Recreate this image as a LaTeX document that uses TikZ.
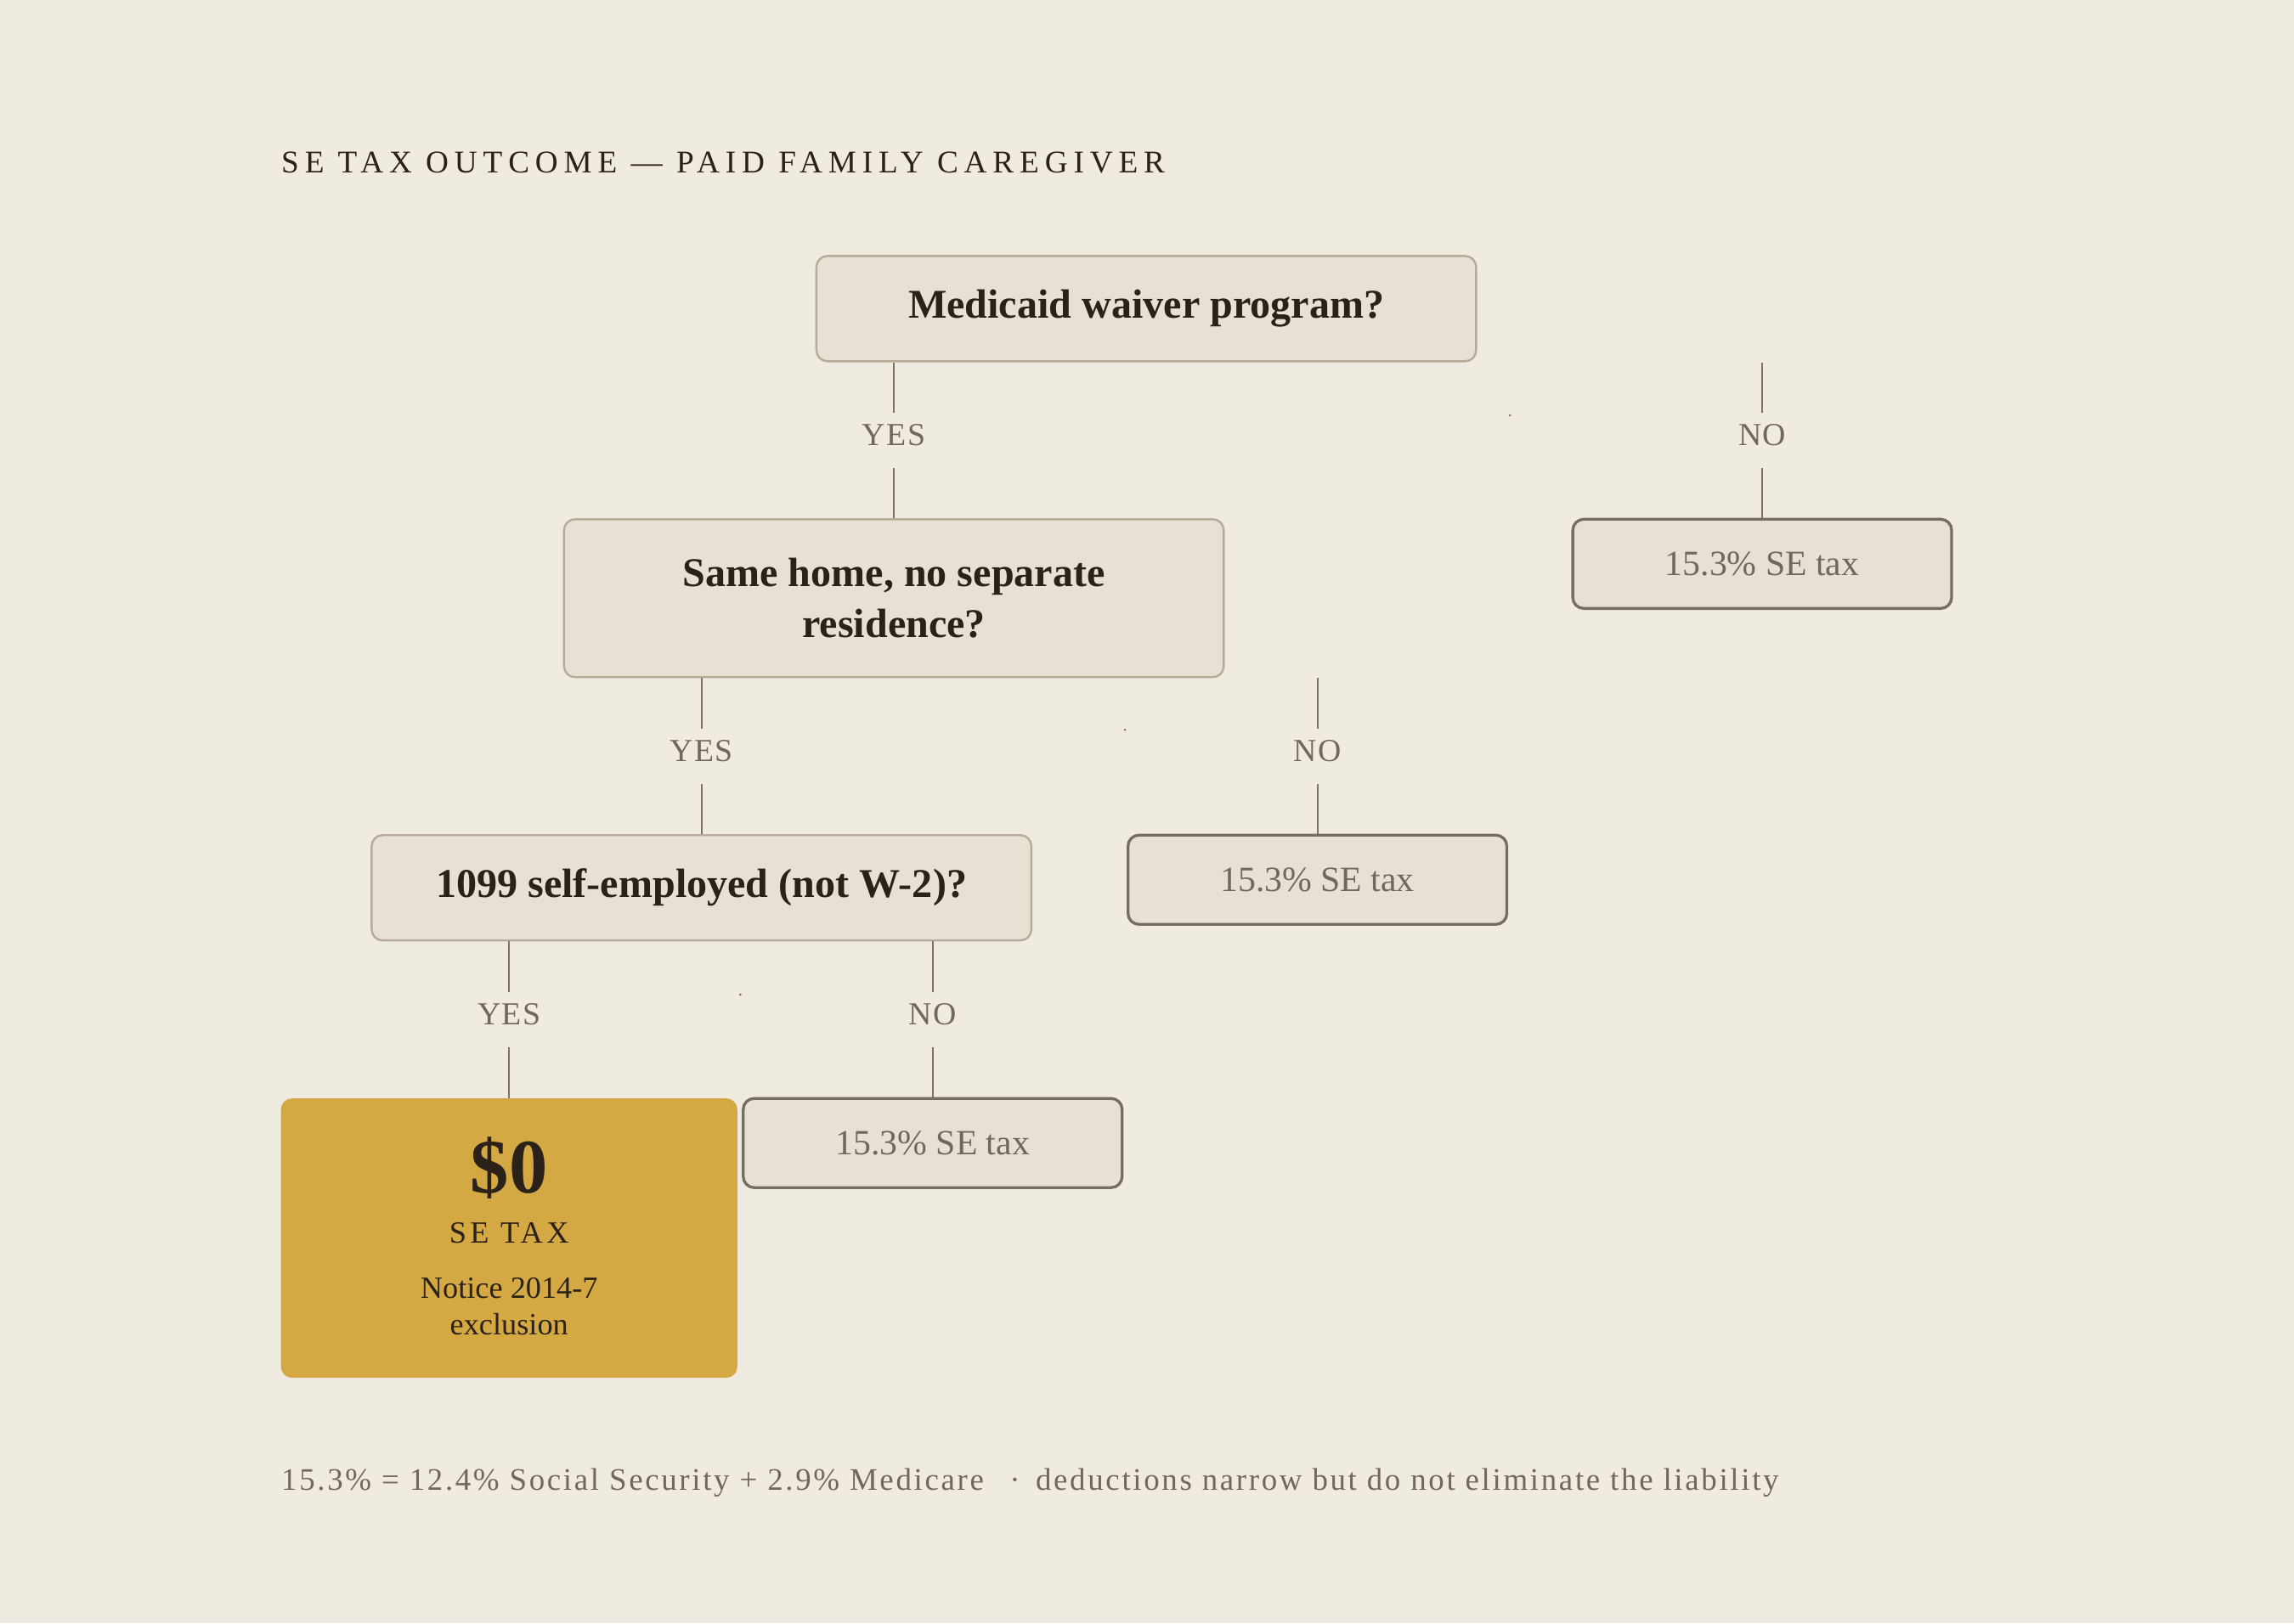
\documentclass[tikz,border=0pt]{standalone}
\usepackage{fontspec}
\setmainfont{Liberation Serif}
\usetikzlibrary{calc}
\definecolor{paper}{HTML}{EFEBE1}
\definecolor{boxfill}{HTML}{E7E0D5}
\definecolor{qedge}{HTML}{B8AA9A}
\definecolor{oedge}{HTML}{766D62}
\definecolor{wirecol}{HTML}{7B7268}
\definecolor{ink}{HTML}{2A2119}
\definecolor{muted}{HTML}{71685D}
\definecolor{gold}{HTML}{D4A843}
\tikzset{
	question/.style={draw=qedge, fill=boxfill, line width=0.8pt, rounded corners=0.15cm, minimum width=9.02cm, minimum height=1.44cm, text=ink, font=\fontsize{15.9}{19.9}\selectfont\bfseries, align=center},
	outcome/.style={draw=oedge, fill=boxfill, line width=1.1pt, rounded corners=0.15cm, minimum width=5.18cm, minimum height=1.22cm, text=muted, font=\fontsize{13.8}{16}\selectfont},
	answer/.style={text=muted, font=\fontsize{12.5}{14}\selectfont\addfontfeatures{LetterSpace=4}, inner sep=0pt, text height=0.432cm, text depth=0.306cm, anchor=base},
	wire/.style={draw=wirecol, line width=0.7pt},
	flat/.style={inner sep=0pt, anchor=base},
}

\begin{document}
\begin{tikzpicture}[x=0.02cm, y=-0.02cm]
			%%%%% START %%%%%
			
			\fill[paper] (0, 0) rectangle (1568, 1110);
			\useasboundingbox (0, 0) rectangle (1568, 1110);
			
			\node[flat, anchor=base west, text=ink, font=\fontsize{12.3}{14}\selectfont\addfontfeatures{LetterSpace=18.5}] (title) at (192, 118.3) {SE TAX OUTCOME — PAID FAMILY CAREGIVER};
			
			\node[question] (waiver) at (783.5, 211) {Medicaid waiver program?};
			\node[question, minimum height=2.16cm] (home) at (611, 409) {Same home, no separate\\residence?};
			\node[question] (employed) at (479.5, 607) {1099 self-employed (not W-2)?};
			
			\node[outcome] (taxA) at (1204.5, 385.5) {15.3\% SE tax};
			\node[outcome] (taxB) at (900.5, 601.5) {15.3\% SE tax};
			\node[outcome] (taxC) at (637.5, 781.5) {15.3\% SE tax};
			
			\node[fill=gold, rounded corners=0.15cm, minimum width=6.24cm, minimum height=3.82cm] (zero) at (348, 846.5) {};
			\node[flat, text=ink, font=\fontsize{30}{32}\selectfont\bfseries] (amount) at (348, 815.5) {\$0};
			\node[flat, text=ink, font=\fontsize{12}{14}\selectfont\addfontfeatures{LetterSpace=12}] (amountlbl) at (348, 849.7) {SE TAX};
			\node[flat, text=ink, font=\fontsize{12}{14}\selectfont] (notice) at (348, 887.4) {Notice 2014-7};
			\node[flat, text=ink, font=\fontsize{12}{14}\selectfont] (exclusion) at (348, 912.7) {exclusion};
			
			\node[answer] (yesA) at (611, 304.4) {YES};
			\node[answer] (noA) at (1204.5, 304.4) {NO};
			\node[answer] (yesB) at (479.5, 520.4) {YES};
			\node[answer] (noB) at (900.5, 520.4) {NO};
			\node[answer] (yesC) at (348, 700.4) {YES};
			\node[answer] (noC) at (637.5, 700.4) {NO};
			
			\draw[wire] (waiver.south -| yesA) -- (yesA.north);
			\draw[wire] (yesA.south) -- (home.north -| yesA);
			\draw[wire] (waiver.south -| noA) -- (noA.north);
			\draw[wire] (noA.south) -- (taxA.north);
			
			\draw[wire] (home.south -| yesB) -- (yesB.north);
			\draw[wire] (yesB.south) -- (employed.north -| yesB);
			\draw[wire] (home.south -| noB) -- (noB.north);
			\draw[wire] (noB.south) -- (taxB.north);
			
			\draw[wire] (employed.south -| yesC) -- (yesC.north);
			\draw[wire] (yesC.south) -- (zero.north);
			\draw[wire] (employed.south -| noC) -- (noC.north);
			\draw[wire] (noC.south) -- (taxC.north);
			
			\fill[wirecol] (1032, 284) circle (0.5pt);
			\fill[wirecol] (769, 499) circle (0.5pt);
			\fill[wirecol] (506, 680) circle (0.5pt);
			
			\node[flat, anchor=base west, text=muted, font=\fontsize{12.2}{14}\selectfont\addfontfeatures{LetterSpace=7.2}] (note) at (192, 1018.6) {15.3\% = 12.4\% Social Security + 2.9\% Medicare \enspace·\enspace deductions narrow but do not eliminate the liability};
			
			%%%%% END %%%%%
		\end{tikzpicture}
\end{document}
